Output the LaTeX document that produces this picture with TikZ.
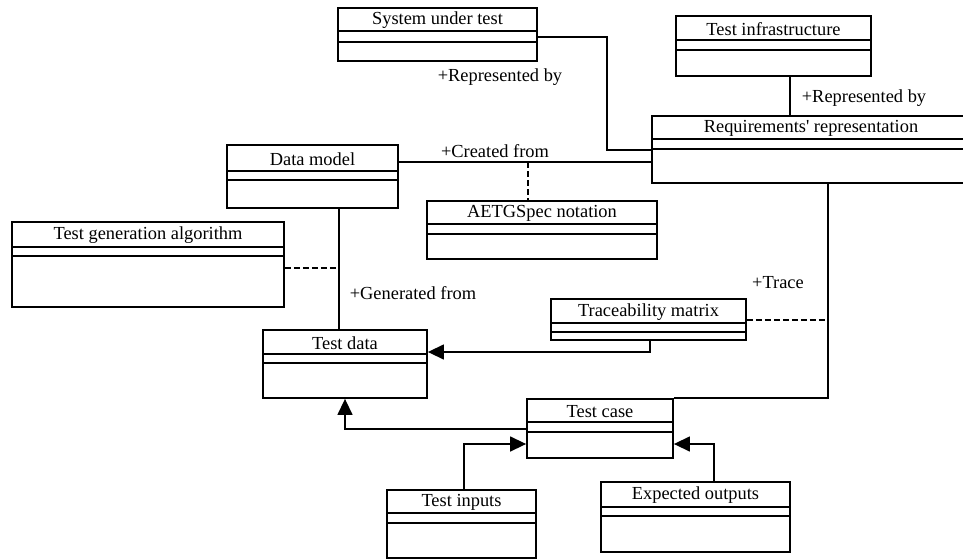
\documentclass[tikz,border=0pt]{standalone}
\usepackage{fontspec}
\setmainfont{Liberation Serif}
\usetikzlibrary{arrows.meta,fit}

\tikzset{
  classbox/.style={draw, line width=1.8pt, inner sep=0pt, fill=white},
  divider/.style={line width=1.6pt},
  classtitle/.style={inner sep=0pt, font=\fontsize{18.4}{22}\selectfont},
  assoc/.style={line width=1.4pt},
  depend/.style={line width=1.4pt, dash pattern=on 6pt off 3pt},
  gen/.style={line width=1.4pt, -{Triangle[length=16pt,width=15pt]}},
  role/.style={inner sep=0pt, font=\fontsize{18.4}{22}\selectfont},
}

% class box: name, x1, y1, x2, y2, title bottom, divider, title
\newcommand{\umlclass}[8]{%
  \node[classbox, fit={(#2,#3) (#4,#5)}] (#1) {};
  \draw[divider] (#2,#6) -- (#4,#6);
  \draw[divider] (#2,#7) -- (#4,#7);
  \node[classtitle] at ({(#2+#4)/2},{(#3+#6)/2+1}) {#8};
}

\begin{document}
\begin{tikzpicture}[x=1pt,y=-1pt]
\useasboundingbox (0,0) rectangle (963,559);

% classes
\umlclass{sut}{338}{8}{537}{61}{31}{42}{System under test}
\umlclass{infra}{676}{16}{871}{76}{40}{50}{Test infrastructure}
\umlclass{req}{652}{116}{970}{183}{139}{149}{Requirements\textquotesingle{} representation}
\umlclass{dm}{227}{145}{398}{208}{171}{180}{Data model}
\umlclass{aetg}{427}{201}{657}{259}{224}{234}{AETGSpec notation}
\umlclass{tga}{12}{222}{284}{307}{247}{256}{Test generation algorithm}
\umlclass{tm}{551}{299}{746}{340}{323}{332}{Traceability matrix}
\umlclass{td}{263}{330}{427}{398}{354}{363}{Test data}
\umlclass{tc}{527}{399}{673}{458}{422}{432}{Test case}
\umlclass{ti}{387}{490}{536}{558}{513}{523}{Test inputs}
\umlclass{eo}{601}{482}{790}{552}{507}{516}{Expected outputs}

% junction points on association lines
\coordinate (cf) at (528,162);
\coordinate (gf) at (339,268);
\coordinate (tr) at (828,320);

% associations
\draw[assoc] (sut.east |- 0,37) -| (607,150) -- (req.west |- 0,150);
\draw[assoc] (infra.south -| 790,0) -- (req.north -| 790,0);
\draw[assoc] (dm.east |- 0,162) -- (req.west |- 0,162);
\draw[assoc] (dm.south -| 339,0) -- (td.north -| 339,0);
\draw[assoc] (req.south -| 828,0) |- (tc.north east);

% association classes
\draw[depend] (cf) -- (aetg.north -| cf);
\draw[depend] (tga.east |- gf) -- (gf);
\draw[depend] (tm.east |- tr) -- (tr);

% generalisations
\draw[gen] (tm.south -| 650,0) |- (td.east |- 0,352);
\draw[gen] (tc.west |- 0,429) -| (td.south);
\draw[gen] (ti.north -| 464,0) |- (tc.west |- 0,444);
\draw[gen] (eo.north -| 714,0) |- (tc.east |- 0,444);

% role names
\node[role] at (500,77) {+Represented by};
\node[role] at (864,98) {+Represented by};
\node[role] at (495,151) {+Created from};
\node[role] at (413,293) {+Generated from};
\node[role] at (778,283) {+Trace};
\end{tikzpicture}
\end{document}
